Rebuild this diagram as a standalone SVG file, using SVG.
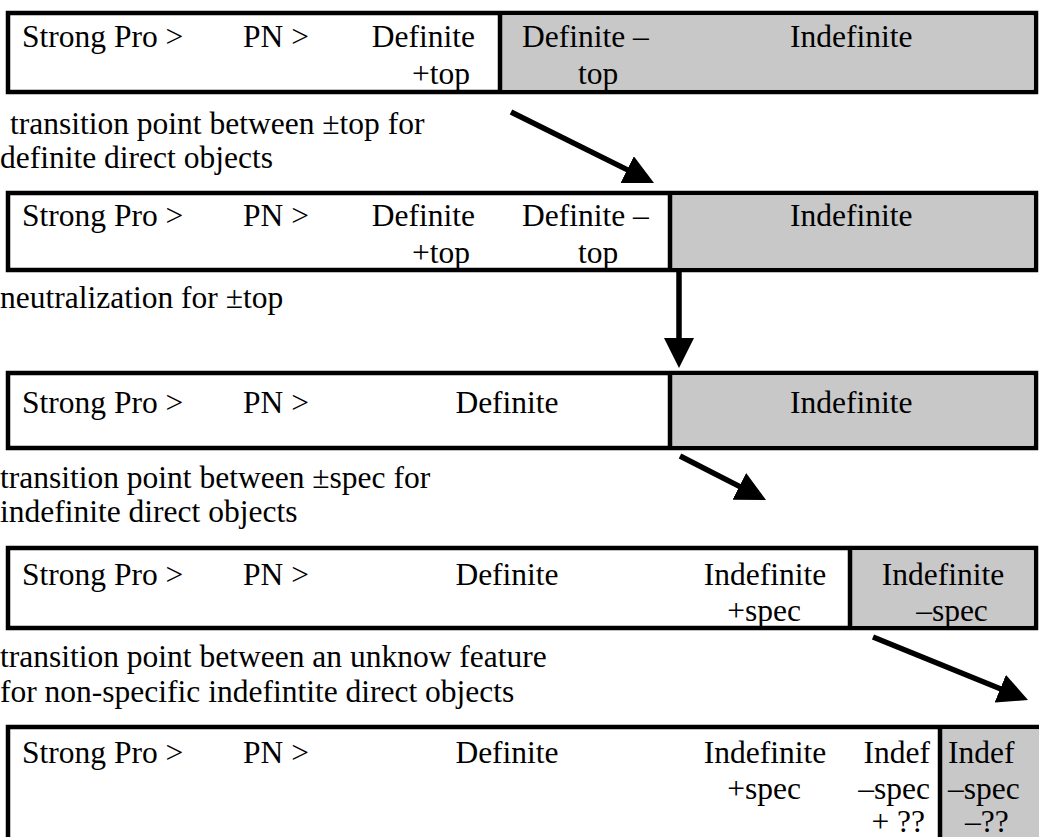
<svg xmlns="http://www.w3.org/2000/svg" width="1039" height="837" viewBox="0 0 1039 837">
<style>
text{font-family:"Liberation Serif","Times New Roman",serif;font-size:31.5px;fill:#000}
.box{fill:#fff;stroke:#000;stroke-width:4.5}
.g{fill:#c8c8c8}
.div{stroke:#000;stroke-width:4.5}
.arr{stroke:#000;stroke-width:5.5;fill:none;marker-end:url(#ah)}
.r{text-anchor:end}
.m{text-anchor:middle}
</style>
<defs>
<marker id="ah" viewBox="0 0 30 30" refX="10" refY="15" markerWidth="30" markerHeight="30" markerUnits="userSpaceOnUse" orient="auto">
<path d="M0,0 L30,15 L0,30 z" fill="#000"/>
</marker>
</defs>
<rect width="1039" height="837" fill="#fff"/>

<g id="box1">
<rect class="box" x="8" y="13" width="1028" height="79"/>
<rect class="g" x="502" y="15.5" width="531.5" height="74"/>
<line class="div" x1="500" y1="13" x2="500" y2="92"/>
<text x="22" y="47">Strong Pro &gt;</text>
<text x="243" y="47">PN &gt;</text>
<text x="475" y="47" class="r">Definite</text>
<text x="470" y="84" class="r">+top</text>
<text x="522" y="47">Definite –</text>
<text x="578" y="84">top</text>
<text x="790" y="47">Indefinite</text>
</g>

<g id="cap1">
<text x="10" y="134">transition point between ±top for</text>
<text x="0" y="168">definite direct objects</text>
</g>

<g id="box2">
<rect class="box" x="8" y="193" width="1028" height="77"/>
<rect class="g" x="672" y="195.5" width="361.5" height="72"/>
<line class="div" x1="670" y1="193" x2="670" y2="270"/>
<text x="22" y="226">Strong Pro &gt;</text>
<text x="243" y="226">PN &gt;</text>
<text x="475" y="226" class="r">Definite</text>
<text x="470" y="263" class="r">+top</text>
<text x="522" y="226">Definite –</text>
<text x="578" y="263">top</text>
<text x="790" y="226">Indefinite</text>
</g>

<g id="cap2">
<text x="0" y="308">neutralization for ±top</text>
</g>

<g id="box3">
<rect class="box" x="8" y="373" width="1028" height="75"/>
<rect class="g" x="672" y="375.5" width="361.5" height="70"/>
<line class="div" x1="670" y1="373" x2="670" y2="448"/>
<text x="22" y="413">Strong Pro &gt;</text>
<text x="243" y="413">PN &gt;</text>
<text x="507" y="413" class="m">Definite</text>
<text x="790" y="413">Indefinite</text>
</g>

<g id="cap3">
<text x="0" y="488">transition point between ±spec for</text>
<text x="0" y="522">indefinite direct objects</text>
</g>

<g id="box4">
<rect class="box" x="8" y="548" width="1028" height="80"/>
<rect class="g" x="852" y="550.5" width="181.5" height="75"/>
<line class="div" x1="850" y1="548" x2="850" y2="628"/>
<text x="22" y="585">Strong Pro &gt;</text>
<text x="243" y="585">PN &gt;</text>
<text x="507" y="585" class="m">Definite</text>
<text x="765" y="585" class="m">Indefinite</text>
<text x="764" y="621" class="m">+spec</text>
<text x="943" y="585" class="m">Indefinite</text>
<text x="952" y="621" class="m">–spec</text>
</g>

<g id="cap4">
<text x="0" y="667">transition point between an unknow feature</text>
<text x="0" y="702">for non-specific indefintite direct objects</text>
</g>

<g id="box5">
<rect class="box" x="8" y="727" width="1040" height="120"/>
<rect class="g" x="942" y="729.5" width="97" height="110"/>
<line class="div" x1="940" y1="727" x2="940" y2="837"/>
<text x="22" y="763">Strong Pro &gt;</text>
<text x="243" y="763">PN &gt;</text>
<text x="507" y="763" class="m">Definite</text>
<text x="765" y="763" class="m">Indefinite</text>
<text x="764" y="799" class="m">+spec</text>
<text x="930" y="763" class="r">Indef</text>
<text x="930" y="799" class="r">–spec</text>
<text x="925" y="832" class="r">+ ??</text>
<text x="948" y="763">Indef</text>
<text x="948" y="799">–spec</text>
<text x="965" y="832">–??</text>
</g>

<g id="connectors">
<line class="arr" x1="511" y1="112" x2="636.1" y2="174.1"/>
<line class="arr" x1="679" y1="272" x2="679" y2="348"/>
<line class="arr" x1="680" y1="456" x2="748.2" y2="490.9"/>
<line class="arr" x1="873" y1="637" x2="1009.5" y2="692.5"/>
</g>
</svg>
